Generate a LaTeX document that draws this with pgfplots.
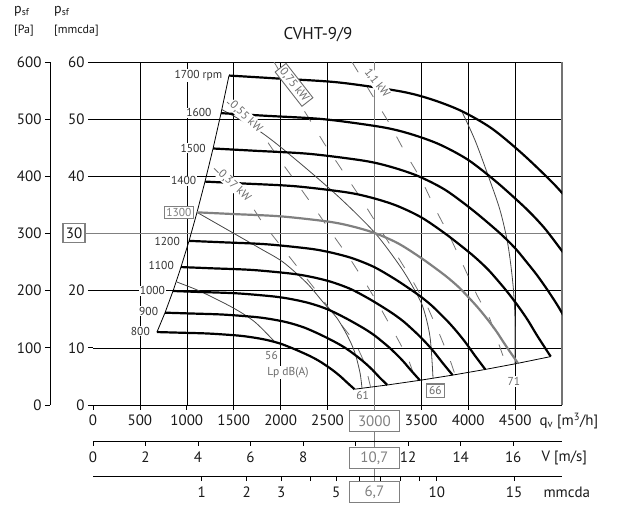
\documentclass[border=0pt]{standalone}
\usepackage{fontspec}
\setmainfont{PT Sans}
\usepackage{pgfplots}
\pgfplotsset{compat=1.18}
\definecolor{opgray}{gray}{0.5}
\definecolor{pwgray}{gray}{0.45}
\definecolor{sndgray}{gray}{0.28}
\definecolor{txtgray}{gray}{0.42}
\definecolor{lblcol}{gray}{0.2}
\newcommand{\tfs}{\fontsize{15}{17}\selectfont}
\newcommand{\lfs}{\fontsize{11.5}{13}\selectfont}
\begin{document}
\begin{tikzpicture}
\useasboundingbox (-93pt,-100pt) rectangle (530pt,405pt);
% ---- Pa axis ----
\begin{axis}[at={(-43pt,0pt)}, anchor=south west, scale only axis,
  width=10pt, height=343pt, xmin=0, xmax=1, ymin=0, ymax=600,
  axis x line=none, axis y line=left, axis line style={-, black, line width=0.9pt},
  ytick={0,100,...,600}, xtick=\empty, tick align=outside, major tick length=5pt,
  tick style={black, line width=0.8pt},
  ticklabel style={font=\tfs, text=black!90},
  /pgf/number format/assume math mode=true]
\end{axis}
% ---- main axis ----
\begin{axis}[at={(0pt,0pt)}, anchor=south west, scale only axis,
  width=469pt, height=343pt, xmin=0, xmax=5000, ymin=0, ymax=60,
  separate axis lines, y axis line style={draw=none},
  x axis line style={black, line width=0.9pt},
  xtick={500,1000,...,4500}, xticklabels={500,1000,1500,2000,2500,,3500,4000,4500},
  extra x ticks={0}, extra x tick labels={0}, extra x tick style={grid=none},
  ytick={10,20,30,40,50}, yticklabels={10,20,,40,50},
  extra y ticks={0,60}, extra y tick labels={0,60}, extra y tick style={grid=none},
  grid=major, major grid style={black, line width=0.55pt},
  xtick pos=left, ytick pos=left, tick align=outside, major tick length=5pt,
  tick style={black, line width=0.8pt},
  ticklabel style={font=\tfs, text=black!90},
  xticklabel style={yshift=-1pt},
  /pgf/number format/assume math mode=true,
  /pgf/number format/1000 sep={},
  clip mode=individual]
% operating point lines
\draw[opgray, line width=1.8pt] (axis cs:-140,30) -- (axis cs:5000,30);
\draw[opgray, line width=1.8pt] (axis cs:3000,60) -- (axis cs:3000,-13.6);
\draw[pwgray, line width=2pt] (axis cs:5000,0) -- (axis cs:5000,60);
% boundary lines
\addplot[black, line width=0.8pt] coordinates {(682,12.76) (768,16.15) (853,19.94) (938,24.13) (1024,28.71) (1109,33.7) (1194,39.08) (1280,44.87) (1365,51.05) (1450,57.63)};
\addplot[black, line width=0.8pt] coordinates {(2788,2.76) (3137,3.50) (3485,4.32) (3834,5.23) (4182,6.22) (4531,7.3) (4880,8.47)};
% power lines
\addplot[pwgray, line width=0.8pt, dash pattern=on 12pt off 17pt] coordinates {(1290,41.4) (1674,35.3) (1802,32.0) (1994,28.0) (2196,23.8) (2399,19.6) (2591,15.2) (2794,11.0) (2900,7.2) (2960,3.1)};
\addplot[pwgray, line width=0.8pt, dash pattern=on 12pt off 17pt] coordinates {(1429,53.0) (1812,47.2) (1994,42.8) (2186,38.5) (2377,34.1) (2569,29.5) (2751,25.3) (2911,21.2) (3070,16.8) (3220,12.4) (3358,8.2) (3444,4.2)};
\addplot[pwgray, line width=0.8pt, dash pattern=on 12pt off 17pt] coordinates {(1930,60.0) (2079,55.9) (2281,50.7) (2463,45.8) (2655,41.1) (2846,36.4) (3028,31.6) (3220,26.7) (3401,21.9) (3571,17.0) (3699,12.2) (3806,7.9) (3860,5.3)};
\addplot[pwgray, line width=0.8pt, dash pattern=on 12pt off 17pt] coordinates {(2761,60.0) (3166,49.1) (3326,44.2) (3508,39.2) (3646,34.4) (3806,29.4) (3945,24.5) (4094,19.2) (4233,15.0) (4360,9.1) (4410,6.9)};
% sound lines
\addplot[sndgray, line width=0.8pt, smooth] coordinates {(896,21.5) (1141,19.9) (1493,17.0) (1727,14.5) (1940,11.0)};
\addplot[sndgray, line width=0.8pt, smooth] coordinates {(1109,33.7) (1493,30.1) (1780,27.4) (2026,25.0) (2281,21.3) (2452,18.0) (2601,15.2) (2719,11.9) (2793,9.1) (2847,5.6) (2868,2.9)};
\addplot[sndgray, line width=0.8pt, smooth] coordinates {(1372,51.7) (1802,47.6) (2207,42.3) (2633,36.2) (3006,30.1) (3273,24.3) (3412,20.6) (3518,17.1) (3593,11.9) (3625,4.7)};
\addplot[sndgray, line width=0.8pt, smooth] coordinates {(3934,51.3) (4073,46.3) (4211,40.2) (4339,34.1) (4424,28.0) (4478,21.0) (4499,14.9) (4499,7.2)};
% rpm curves
\addplot[black, line width=2.2pt, smooth] coordinates {(682,12.76) (923,12.65) (1231,12.50) (1538,12.16) (1692,11.85) (1846,11.40) (2000,10.72) (2154,9.73) (2308,8.60) (2400,7.80) (2462,7.16) (2523,6.48) (2585,5.72) (2646,4.89) (2708,3.94) (2788,2.76)};
\addplot[black, line width=2.2pt, smooth] coordinates {(768,16.15) (1038,16.01) (1385,15.82) (1731,15.39) (1904,15.00) (2077,14.43) (2250,13.56) (2423,12.32) (2596,10.88) (2700,9.87) (2769,9.06) (2838,8.20) (2908,7.24) (2977,6.18) (3046,4.98) (3137,3.50)};
\addplot[black, line width=2.2pt, smooth] coordinates {(853,19.94) (1154,19.76) (1538,19.53) (1923,18.99) (2115,18.52) (2308,17.81) (2500,16.75) (2692,15.21) (2885,13.43) (3000,12.19) (3077,11.18) (3154,10.12) (3231,8.93) (3308,7.63) (3385,6.15) (3485,4.32)};
\addplot[black, line width=2.2pt, smooth] coordinates {(938,24.13) (1269,23.91) (1692,23.63) (2115,22.98) (2327,22.41) (2538,21.55) (2750,20.26) (2962,18.40) (3173,16.25) (3300,14.75) (3385,13.53) (3469,12.24) (3554,10.81) (3638,9.24) (3723,7.45) (3834,5.23)};
\addplot[black, line width=2.2pt, smooth] coordinates {(1024,28.71) (1385,28.46) (1846,28.12) (2308,27.35) (2538,26.67) (2769,25.65) (3000,24.11) (3231,21.90) (3462,19.34) (3600,17.55) (3692,16.10) (3785,14.57) (3877,12.87) (3969,10.99) (4062,8.86) (4182,6.22)};
\addplot[opgray, line width=2.2pt, smooth] coordinates {(1109,33.7) (1500,33.4) (2000,33.0) (2500,32.1) (2750,31.3) (3000,30.1) (3250,28.3) (3500,25.7) (3750,22.7) (3900,20.6) (4000,18.9) (4100,17.1) (4200,15.1) (4300,12.9) (4400,10.4) (4531,7.3)};
\addplot[black, line width=2.2pt, smooth] coordinates {(1194,39.08) (1615,38.74) (2154,38.27) (2692,37.23) (2962,36.30) (3231,34.91) (3500,32.82) (3769,29.81) (4038,26.33) (4200,23.89) (4308,21.92) (4415,19.83) (4523,17.51) (4631,14.96) (4738,12.06) (4880,8.47)};
\addplot[black, line width=2.2pt, smooth] coordinates {(1280,44.87) (1731,44.47) (2308,43.93) (2885,42.74) (3173,41.67) (3462,40.07) (3750,37.68) (4038,34.22) (4327,30.22) (4500,27.43) (4615,25.16) (4731,22.77) (4846,20.10) (4962,17.17) (5077,13.85)};
\addplot[black, line width=2.2pt, smooth] coordinates {(1365,51.05) (1846,50.59) (2462,49.99) (3077,48.62) (3385,47.41) (3692,45.60) (4000,42.87) (4308,38.93) (4615,34.39) (4800,31.20) (4923,28.63) (5046,25.90) (5169,22.87)};
\addplot[black, line width=2.2pt, smooth] coordinates {(1450,57.63) (1962,57.12) (2615,56.43) (3269,54.89) (3596,53.53) (3923,51.47) (4250,48.39) (4577,43.95) (4904,38.82) (5100,35.23)};
% rpm labels
\tikzset{rl/.style={anchor=east, fill=white, inner sep=1pt, font=\lfs, text=lblcol}}
\node[rl] at (axis cs:1390,57.6) {1700 rpm};
\node[rl] at (axis cs:1275,51.1) {1600};
\node[rl] at (axis cs:1215,44.9) {1500};
\node[rl] at (axis cs:1112,39.2) {1400};
\node[anchor=east, fill=white, draw=opgray, line width=1.2pt, text=opgray, inner sep=2pt, font=\lfs] at (axis cs:1077,33.7) {1300};
\node[rl] at (axis cs:938,28.6) {1200};
\node[rl] at (axis cs:874,24.4) {1100};
\node[rl] at (axis cs:780,20.0) {1000};
\node[rl] at (axis cs:706,16.4) {900};
\node[rl] at (axis cs:618,12.9) {800};
% power labels
\node[rotate=-43, fill=white, inner sep=1pt, font=\lfs, text=txtgray] at (axis cs:1509,38.3) {0,37 kW};
\node[rotate=-43, fill=white, inner sep=1pt, font=\lfs, text=txtgray] at (axis cs:1631,50.4) {0,55 kW};
\node[rotate=-52, fill=white, draw=txtgray, line width=0.9pt, inner sep=2pt, font=\lfs, text=txtgray] at (axis cs:2143,56.0) {0,75 kW};
\node[rotate=-52, fill=white, inner sep=1pt, font=\lfs, text=txtgray] at (axis cs:3028,56.3) {1,1 kW};
% sound labels
\node[fill=white, inner sep=1pt, font=\lfs, text=txtgray] at (axis cs:1903,8.6) {56};
\node[fill=white, inner sep=1pt, font=\lfs, text=txtgray] at (axis cs:2079,5.7) {Lp dB(A)};
\node[inner sep=1pt, font=\lfs, text=txtgray] at (axis cs:2875,1.6) {61};
\node[fill=white, draw=opgray, line width=1.2pt, inner sep=2.5pt, font=\lfs, text=txtgray] at (axis cs:3651,2.5) {66};
\node[fill=white, inner sep=1pt, font=\lfs, text=txtgray] at (axis cs:4488,4.1) {71};
\end{axis}
% ---- V axis ----
\begin{axis}[at={(0pt,-36pt)}, anchor=south west, scale only axis,
  width=469pt, height=10pt, xmin=0, xmax=5000, ymin=0, ymax=1,
  axis y line=none, axis x line=bottom, axis line style={-, black, line width=0.9pt},
  xtick={0,560,1120,1680,2240,2800,3360,3920,4480},
  xticklabels={0,2,4,6,8,,12,14,16}, ytick=\empty,
  tick align=outside, major tick length=5pt, tick style={black, line width=0.8pt},
  ticklabel style={font=\tfs, text=black!90}, xticklabel style={yshift=-2pt}]
\end{axis}
% ---- dynamic pressure axis ----
\begin{axis}[at={(0pt,-71pt)}, anchor=south west, scale only axis,
  width=469pt, height=10pt, xmin=0, xmax=5000, ymin=0, ymax=1,
  axis y line=none, axis x line=bottom, axis line style={-, black, line width=0.9pt},
  xtick={1159,1639,2007,2318,2592,2839,3066,3278,3477,3665,4489},
  xticklabels={1,2,3,,5,,,,,10,15}, ytick=\empty,
  tick align=outside, major tick length=5pt, tick style={black, line width=0.8pt},
  ticklabel style={font=\tfs, text=black!90}, xticklabel style={yshift=-2pt}]
\end{axis}
% ---- boxes and labels ----
\tikzset{ob/.style={draw=opgray, line width=1.3pt, fill=white, text=opgray, minimum width=50pt, minimum height=21pt, inner sep=1pt, font=\tfs}}
\node[ob] at (281.4pt,-16pt) {3000};
\node[ob] at (281.4pt,-53pt) {10,7};
\node[ob] at (281.4pt,-87pt) {6,7};
\node[draw=opgray, line width=1.3pt, fill=white, text=black!90, minimum width=22pt, minimum height=19pt, inner sep=1pt, font=\tfs] at (-19pt,172pt) {30};
\node[anchor=west, font=\tfs, text=black!90] at (443pt,-16pt) {q\textsubscript{v} [m\textsuperscript{3}/h]};
\node[anchor=west, font=\tfs, text=black!90] at (445pt,-53pt) {V [m/s]};
\node[anchor=west, font=\tfs, text=black!90] at (447pt,-87pt) {mmcda};
\node[font=\fontsize{17}{20}\selectfont, text=black!90] at (225pt,370pt) {CVHT-9/9};
\node[anchor=west, inner sep=0pt, font=\fontsize{14}{16}\selectfont, text=black!90] at (-79pt,394pt) {p\textsubscript{sf}};
\node[anchor=west, inner sep=0pt, font=\fontsize{12}{14}\selectfont, text=black!90] at (-79pt,374pt) {[Pa]};
\node[anchor=west, inner sep=0pt, font=\fontsize{14}{16}\selectfont, text=black!90] at (-39pt,394pt) {p\textsubscript{sf}};
\node[anchor=west, inner sep=0pt, font=\fontsize{12}{14}\selectfont, text=black!90] at (-39pt,374pt) {[mmcda]};
\end{tikzpicture}
\end{document}
